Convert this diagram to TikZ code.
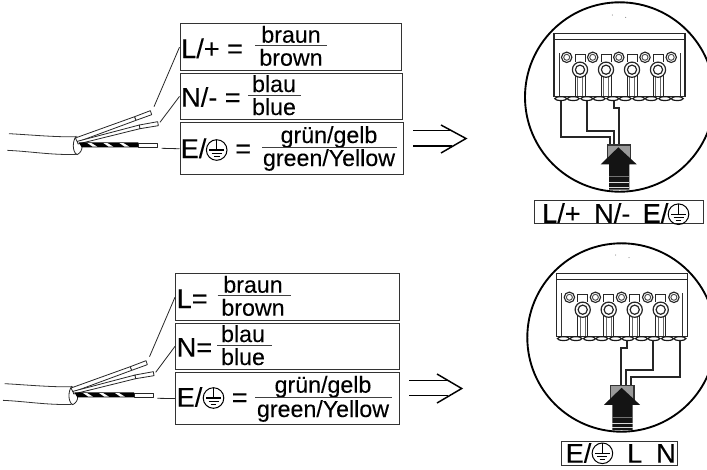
\documentclass[tikz,border=0pt]{standalone}
\usepackage{fontspec}
\setmainfont{Liberation Sans}
\newcommand{\bigtxt}{\fontsize{20.3pt}{22pt}\selectfont\addfontfeature{FakeBold=0.15}}
\newcommand{\smalltxt}{\fontsize{17.4pt}{19pt}\selectfont\addfontfeature{FakeBold=0.15}}
\tikzset{
  labelbox/.style={draw=black!80,line width=.8pt,fill=none,inner sep=0pt,anchor=north west},
  big/.style={font=\bigtxt,inner sep=0pt,anchor=base west},
  small/.style={font=\smalltxt,inner sep=0pt,anchor=base},
  fracbar/.style={line width=.7pt,black!75},
  leader/.style={line width=.6pt,black!85},
  wirepart/.style={line width=.6pt,draw=black!85,fill=white,line join=round},
  redwire/.style={line width=1.75pt,black!85,line join=miter},
  outl/.style={line width=.6pt,black!80},
  chevron/.style={line width=1.1pt,black},
  bigcircle/.style={line width=1.4pt,black}
}
\newcommand{\earth}[2]{%
  \begin{scope}[shift={(#1,#2)}]
    \draw[line width=.75pt] (0,0) circle (10.3);
    \draw[line width=.75pt] (0,-10.3) -- (0,0);
    \draw[line width=.9pt] (-7.5,0) -- (7.5,0) (-5,3.2) -- (5,3.2) (-2.8,6.4) -- (2.8,6.4);
  \end{scope}}
% cable, drawn in 3x coordinates
\newcommand{\cable}[2]{%
  \begin{scope}[shift={(#1,#2)},x=.25pt,y=-.25pt]
    \draw[outl] (27,371) .. controls (100,375) and (170,382) .. (232,380);
    \draw[outl] (22,421) .. controls (90,424) and (160,436) .. (228,433);
    \draw[wirepart] (229,378) .. controls (217,392) and (216,425) .. (231,434) .. controls (240,430) and (247,420) .. (246,410);
    \draw[wirepart] (226,384) -- (404,320) -- (408,331) -- (232,396) -- cycle;
    \draw[wirepart] (404,320) -- (451,302) -- (455,314) -- (408,331) -- cycle;
    \draw[wirepart] (232,394) -- (418,345) -- (420,356) -- (234,402) -- cycle;
    \draw[wirepart] (418,345) -- (473,335) -- (475,347) -- (420,356) -- cycle;
    \fill[black] (236,397) -- (415,397) -- (415,412) -- (245,412) -- cycle;
    \foreach \s in {262,310,358}
      \fill[white] (\s,399) -- (\s+12,399) -- (\s+30,410) -- (\s+16,410) -- cycle;
    \draw[wirepart] (415,400) rectangle (473,412);
  \end{scope}}
% terminal block, in pixel coordinates of the upper block
\newcommand{\terminal}[2]{%
  \begin{scope}[shift={(#1,#2)}]
    \draw[line width=.9pt,black!85] (554,96.7) -- (554,33.3) -- (685,33.3) -- (685,96.7) -- cycle;
    \draw[line width=1.05pt,black!85] (554,39.3) -- (685,39.3);
    \draw[line width=.7pt,black!80] (559,96.7) -- (559,53) (680,96.7) -- (680,53);
    \foreach \x in {566.7,592.7,618.8,645,671.2}{
      \draw[line width=.85pt,black!85,fill=white] (\x,57.3) circle (5.2);
      \draw[line width=.7pt,black!70] (\x,57.3) circle (3);
    }
    \foreach \x in {580,606,632,658}{
      \draw[line width=.75pt,black!85] (\x-5,62) -- (\x-5,54.7) -- (\x+5,54.7) -- (\x+5,62);
      \draw[line width=.75pt,black!85] (\x-5,75) -- (\x-5,96.7) (\x+5,75) -- (\x+5,96.7);
      \draw[line width=.5pt,black!60] (\x-2.5,75) -- (\x-2.5,96.7) (\x+2.5,75) -- (\x+2.5,96.7);
      \draw[line width=.9pt,black!85,fill=white] (\x,69.7) circle (7.6);
      \draw[line width=.9pt,black!85] (\x,69.7) circle (4.6);
    }
    \foreach \x in {554,580,606,632,658}{
      \fill[black!85] (\x+.5,96.2) rectangle (\x+25.5,97.4);
      \draw[line width=.9pt,black!90] (\x+6.8,98.6) ellipse (6 and 1.9);
      \draw[line width=.9pt,black!90] (\x+19.2,98.6) ellipse (6 and 1.9);
    }
  \end{scope}}
% entry arrow
\newcommand{\entry}[2]{%
  \begin{scope}[shift={(#1,#2)}]
    \draw[line width=.9pt,draw=black!80,fill=black!40] (607.3,145) rectangle (630.7,163.3);
    \fill[black!92] (618.3,147.3) -- (636.7,164.3) -- (629.3,164.3) -- (629.3,189.5) -- (609,189.5) -- (609,164.3) -- (600.7,164.3) -- cycle;
    \draw[line width=.4pt,black!55] (609,176.7) -- (629.3,176.7);
    \draw[line width=1pt,white!85!black] (609,182.7) -- (629.3,182.7) (609,187.3) -- (629.3,187.3);
  \end{scope}}
\begin{document}
\begin{tikzpicture}[x=.75pt,y=-.75pt]
\useasboundingbox (0,0) rectangle (707,469);
\clip (0,0) rectangle (707,469);
\fill[white] (0,0) rectangle (707,469);

% ---------- upper half ----------
\cable{0}{10}
\node[labelbox,minimum width=165.9pt,minimum height=35pt] (lu) at (179.5,23.3) {};
\node[labelbox,minimum width=166.5pt,minimum height=34.7pt] (nu) at (179.5,72.7) {};
\node[labelbox,minimum width=167.4pt,minimum height=39.3pt] (eu) at (179.5,122) {};
\coordinate (lua) at (154,106.7);
\coordinate (nua) at (160,122.3);
\coordinate (eua) at (161.7,148.3);
\draw[leader] (lua) -- (lu.west);
\draw[leader] (nua) -- (nu.west);
\draw[leader] (eua) -- (eu.west);

\node[big] (t1) at (181,58) {L/+ =};
\node[small] (t2) at (291,42.7) {braun};
\node[small] (t3) at (291,65.7) {brown};
\coordinate (b1a) at (255,45.7); \coordinate (b1b) at (327,45.7);
\draw[fracbar] (b1a) -- (b1b);

\node[big] (t4) at (181,106.7) {N/- =};
\node[small] (t5) at (274,92) {blau};
\node[small] (t6) at (274,115) {blue};
\coordinate (b2a) at (248,95); \coordinate (b2b) at (301,95);
\draw[fracbar] (b2a) -- (b2b);

\node[big] (t7) at (180.5,158) {E/};
\earth{216.7}{150}
\node[big] (t8) at (235,158) {=};
\node[small] (t9) at (329,143) {grün/gelb};
\node[small] (t10) at (329,166) {green/Yellow};
\coordinate (b3a) at (262,147.7); \coordinate (b3b) at (397,147.7);
\draw[fracbar] (b3a) -- (b3b);

\coordinate (au1) at (413,130.7); \coordinate (au2) at (451.6,130.7);
\coordinate (au3) at (413,146); \coordinate (au4) at (452,146);
\coordinate (au5) at (441,125); \coordinate (au6) at (466,138.5); \coordinate (au7) at (441,153);
\draw[chevron] (au1) -- (au2) (au3) -- (au4);
\draw[chevron] (au5) -- (au6) -- (au7);

\draw[bigcircle] (619.7,97) circle (94.7);
\fill[black!60] (612.3,15) circle (.5) (625.7,17.3) circle (.5);
\terminal{0}{0}
\coordinate (wu1) at (561,100.7); \coordinate (wu2) at (587.3,100.7); \coordinate (wu3) at (614,100.7);
\draw[redwire] (wu1) -- (561,136.7) -- (610,136.7) -- (610,145);
\draw[redwire] (wu2) -- (587.3,130.7) -- (614,130.7) -- (614,145);
\draw[redwire] (wu3) -- (614,108.3) -- (619,108.3) -- (619,145);
\entry{0}{0}

\node[labelbox,minimum width=126.5pt,minimum height=17.5pt] (ru) at (534,200) {};
\node[big] (t11) at (542,222.8) {L/+};
\node[big] (t12) at (594,222.8) {N/-};
\node[big] (t13) at (642.5,222.8) {E/};
\earth{678.5}{214.2}

% ---------- lower half ----------
\cable{-4.33}{260}
\node[labelbox,minimum width=168pt,minimum height=35pt] (ll) at (175,273.3) {};
\node[labelbox,minimum width=168pt,minimum height=34.7pt] (nl) at (175,322.7) {};
\node[labelbox,minimum width=168pt,minimum height=39pt] (el) at (175,372) {};
\coordinate (lla) at (149.5,356.7);
\coordinate (nla) at (155.7,372.3);
\coordinate (ela) at (157.3,398.3);
\draw[leader] (lla) -- (ll.west);
\draw[leader] (nla) -- (nl.west);
\draw[leader] (ela) -- (el.west);

\node[big] (t14) at (176.5,308) {L=};
\node[small] (t15) at (253,292.7) {braun};
\node[small] (t16) at (253,315.7) {brown};
\coordinate (b4a) at (217.7,295.7); \coordinate (b4b) at (290.7,295.7);
\draw[fracbar] (b4a) -- (b4b);

\node[big] (t17) at (176.5,356.7) {N=};
\node[small] (t18) at (243,342) {blau};
\node[small] (t19) at (243,365) {blue};
\coordinate (b5a) at (217,345); \coordinate (b5b) at (271.7,345);
\draw[fracbar] (b5a) -- (b5b);

\node[big] (t20) at (176.5,406.7) {E/};
\earth{213.5}{398}
\node[big] (t21) at (231.5,406.7) {=};
\node[small] (t22) at (323,392.7) {grün/gelb};
\node[small] (t23) at (323,417) {green/Yellow};
\coordinate (b6a) at (255.3,397.7); \coordinate (b6b) at (391.7,397.7);
\draw[fracbar] (b6a) -- (b6b);

\coordinate (al1) at (409,380.7); \coordinate (al2) at (448.4,380.7);
\coordinate (al3) at (409,395.7); \coordinate (al4) at (448.4,395.7);
\coordinate (al5) at (437,374); \coordinate (al6) at (461.7,388.5); \coordinate (al7) at (437,403);
\draw[chevron] (al1) -- (al2) (al3) -- (al4);
\draw[chevron] (al5) -- (al6) -- (al7);

\draw[bigcircle] (621.5,337.5) circle (94.2);
\fill[black!60] (615.7,255) circle (.5) (629,257.7) circle (.5);
\terminal{2.7}{240}
\coordinate (wl1) at (626.7,340); \coordinate (wl2) at (652.7,340); \coordinate (wl3) at (680,340);
\draw[redwire] (wl1) -- (626.7,348.3) -- (620.7,348.3) -- (620.7,385);
\draw[redwire] (wl2) -- (652.7,370) -- (625.7,370) -- (625.7,385);
\draw[redwire] (wl3) -- (680,376.7) -- (630.7,376.7) -- (630.7,385);
\entry{3.3}{240.5}

\node[labelbox,minimum width=86.8pt,minimum height=18pt] (rl) at (561,441) {};
\node[big] (t24) at (565.5,462.7) {E/};
\earth{602.4}{453.3}
\node[big] (t25) at (627,462.7) {L};
\node[big] (t26) at (656,462.7) {N};
\end{tikzpicture}
\end{document}
